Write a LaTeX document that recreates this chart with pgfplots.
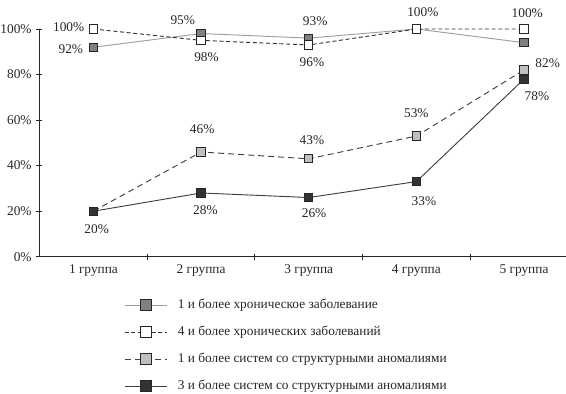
\documentclass[border=0pt]{standalone}
\usepackage{fontspec}
\setmainfont{Liberation Serif}
\usepackage{pgfplots}
\pgfplotsset{compat=1.18}
\definecolor{txt}{HTML}{262626}
\definecolor{axc}{HTML}{262626}
\begin{document}
\begin{tikzpicture}
\begin{axis}[
  name=ax,
  width=395pt, height=170.8pt, scale only axis,
  xmin=0.497, xmax=5.39, ymin=0, ymax=100,
  clip=false,
  axis x line=bottom, axis y line=left,
  axis line style={-, draw=axc, line width=0.7pt},
  xtick={1,2,3,4,5},
  xticklabels={1 группа,2 группа,3 группа,4 группа,5 группа},
  minor xtick={1.5,2.5,3.5,4.5},
  major x tick style={draw=none},
  minor x tick style={draw=axc, line width=0.7pt},
  minor tick length=4.8pt,
  ytick={0,20,40,60,80,100},
  yticklabel={\pgfmathprintnumber{\tick}\%},
  y tick style={draw=axc, line width=0.7pt},
  major tick length=4.5pt,
  /pgf/number format/assume math mode=true,
  tick label style={font=\fontsize{10}{12}\selectfont, text=txt},
  legend cell align=left,
  legend style={at={(axis description cs:0.161,-0.17)}, anchor=north west,
    draw=none, fill=none, inner sep=0pt, row sep=6.25pt,
    font=\fontsize{10}{12}\selectfont, text=txt,
    nodes={inner sep=2pt, text height=7.5pt, text depth=2.5pt},
    /tikz/every odd column/.append style={column sep=6pt}},
  legend image post style={mark size=4.3pt},
  legend image code/.code={\draw[mark repeat=2,mark phase=2] plot coordinates {(0pt,0pt) (15.75pt,0pt) (31.5pt,0pt)};},
]
\addplot[color=black!38, line width=0.7pt, mark=square*, mark size=3.1pt,
  mark options={solid, fill=black!50, draw=black!85}]
  coordinates {(1,92) (2,98) (3,96) (4,100) (5,94)};
\addlegendentry{1 и более хроническое заболевание}
\addplot[color=black!80, line width=0.7pt, dash pattern=on 3pt off 2pt, mark=square*, mark size=3.1pt,
  mark options={solid, fill=white, draw=black!85}]
  coordinates {(1,100) (2,95) (3,93) (4,100) (5,100)};
\addlegendentry{4 и более хронических заболеваний}
\addplot[color=black!75, line width=0.7pt, dash pattern=on 4.5pt off 3pt, mark=square*, mark size=3.1pt,
  mark options={solid, fill=black!25, draw=black!85}]
  coordinates {(1,20) (2,46) (3,43) (4,53) (5,82)};
\addlegendentry{1 и более систем со структурными аномалиями}
\addplot[color=black!75, line width=0.7pt, mark=square*, mark size=3.1pt,
  mark options={solid, fill=black!80, draw=black!85}]
  coordinates {(1,20) (2,28) (3,26) (4,33) (5,78)};
\addlegendentry{3 и более систем со структурными аномалиями}
\begin{scope}[every node/.style={font=\fontsize{10}{12}\selectfont, text=txt, inner sep=0pt}]
\node at (axis cs:0.77,101) {100\%};
\node at (axis cs:0.79,91.2) {92\%};
\node at (axis cs:1.83,104) {95\%};
\node at (axis cs:2.05,87.8) {98\%};
\node at (axis cs:3.06,103.5) {93\%};
\node at (axis cs:3.03,85.5) {96\%};
\node at (axis cs:4.06,107.2) {100\%};
\node at (axis cs:5.03,107) {100\%};
\node at (axis cs:5.22,85) {82\%};
\node at (axis cs:5.12,70.6) {78\%};
\node at (axis cs:4.0,63) {53\%};
\node at (axis cs:2.01,56) {46\%};
\node at (axis cs:3.03,51.3) {43\%};
\node at (axis cs:2.04,20.5) {28\%};
\node at (axis cs:3.05,19.3) {26\%};
\node at (axis cs:4.07,24.5) {33\%};
\node at (axis cs:1.03,12.2) {20\%};
\end{scope}
\end{axis}
\pgfresetboundingbox
\path[use as bounding box] ([xshift=-29.475pt, yshift=-102.225pt]ax.south west) rectangle ([yshift=21.75pt]ax.north east);
\end{tikzpicture}
\end{document}
